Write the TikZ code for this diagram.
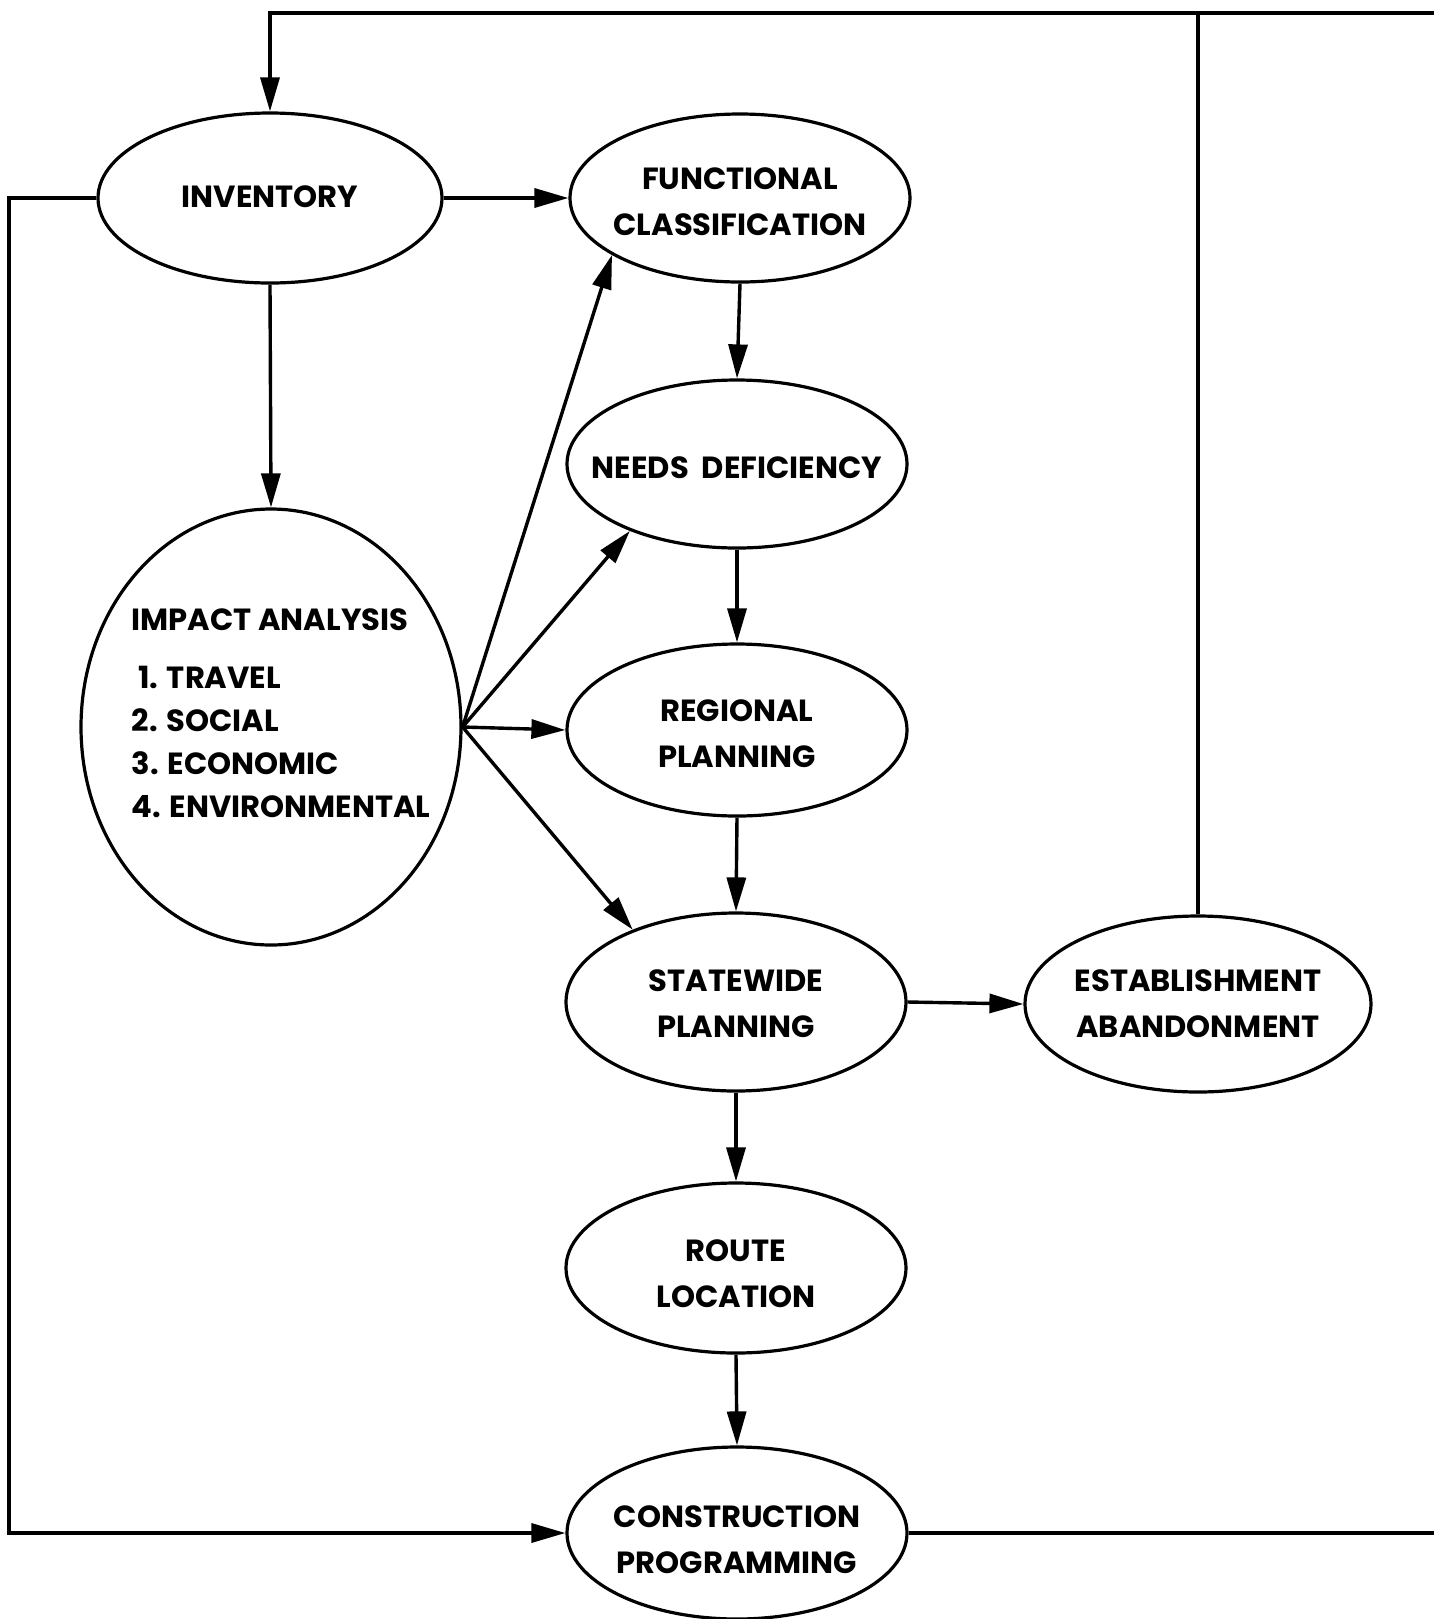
\documentclass[tikz,border=0pt]{standalone}
\usepackage{fontspec}
\setmainfont{Poppins}
\usetikzlibrary{arrows.meta,shapes.geometric}
\begin{document}
\begin{tikzpicture}[x=0.5pt,y=-0.5pt,
  line width=1.7pt,
  box/.style={ellipse,draw,line width=1.6pt,inner sep=0pt},
  lbl/.style={inner sep=0pt,align=center,
    font=\fontsize{15.3pt}{23pt}\selectfont\bfseries},
  flow/.style={-{Triangle[length=17pt,width=9.5pt]}}]
\useasboundingbox (0,0) rectangle (1434,1619);

% process ellipses
\node[box,minimum width=172pt,minimum height=85pt] (inv) at (270,198) {};
\node[box,minimum width=170pt,minimum height=84pt] (func) at (740,198) {};
\node[box,minimum width=170pt,minimum height=84pt] (needs) at (737,464) {};
\node[box,minimum width=170pt,minimum height=86pt] (reg) at (737,730) {};
\node[box,minimum width=170pt,minimum height=89pt] (state) at (736,1002) {};
\node[box,minimum width=170pt,minimum height=85pt] (route) at (736,1268) {};
\node[box,minimum width=170pt,minimum height=86pt] (constr) at (737,1533) {};
\node[box,minimum width=173pt,minimum height=88pt] (estab) at (1198,1004) {};
\node[box,minimum width=190pt,minimum height=218pt] (impact) at (271,727) {};

% their labels
\node[lbl] (inv-t) at ([yshift=0.5pt]inv.center) {INVENTORY};
\node[lbl] (func-t) at ([yshift=-2pt]func.center) {FUNCTIONAL\\CLASSIFICATION};
\node[lbl] (needs-t) at ([yshift=-2pt]needs.center) {NEEDS\ \ DEFICIENCY};
\node[lbl] (reg-t) at ([yshift=-2pt]reg.center) {REGIONAL\\PLANNING};
\node[lbl] (state-t) at ([yshift=-1pt]state.center) {STATEWIDE\\PLANNING};
\node[lbl] (route-t) at ([yshift=-3pt]route.center) {ROUTE\\LOCATION};
\node[lbl] (constr-t) at ([yshift=-3.5pt]constr.center) {CONSTRUCTION\\PROGRAMMING};
\node[lbl] (estab-t) at (estab.center) {ESTABLISHMENT\\ABANDONMENT};
\node[anchor=north west,inner sep=0pt,align=left,
  font=\fontsize{15.3pt}{21.5pt}\selectfont\bfseries] (impact-t) at (130,607)
  {IMPACT ANALYSIS\\[7.5pt]\ 1. TRAVEL\\2. SOCIAL\\3. ECONOMIC\\4. ENVIRONMENTAL};

% loose ends of the feedback loops
\coordinate (topright) at (1434,13);
\coordinate (leftx) at (9,0);
\coordinate (botright) at (1434,1538);

% main flow
\draw[flow] (inv.east) -- (func.west);
\draw[flow] (inv.south) -- (impact.north);
\draw[flow] (func.south) -- (needs.north);
\draw[flow] (needs.south) -- (reg.north);
\draw[flow] (reg.south) -- (state.north);
\draw[flow] (state.south) -- (route.north);
\draw[flow] (route.south) -- (constr.north);
\draw[flow] (state.east) -- (estab.west);

% impact analysis feeds the planning steps
\draw[flow] (impact.east) -- (func.204.2);
\draw[flow] (impact.east) -- (needs.212.2);
\draw[flow] (impact.east) -- (reg.west);
\draw[flow] (impact.east) -- (state.145.5);

% feedback loops
\draw[flow] (topright) -- (inv.north |- topright) -- (inv.north);
\draw (estab.north) -- (estab.north |- topright);
\draw[flow] (inv.west) -- (leftx |- inv.west) -- (leftx |- constr.west) -- (constr.west);
\draw (constr.east) -- (botright |- constr.east);
\end{tikzpicture}
\end{document}
